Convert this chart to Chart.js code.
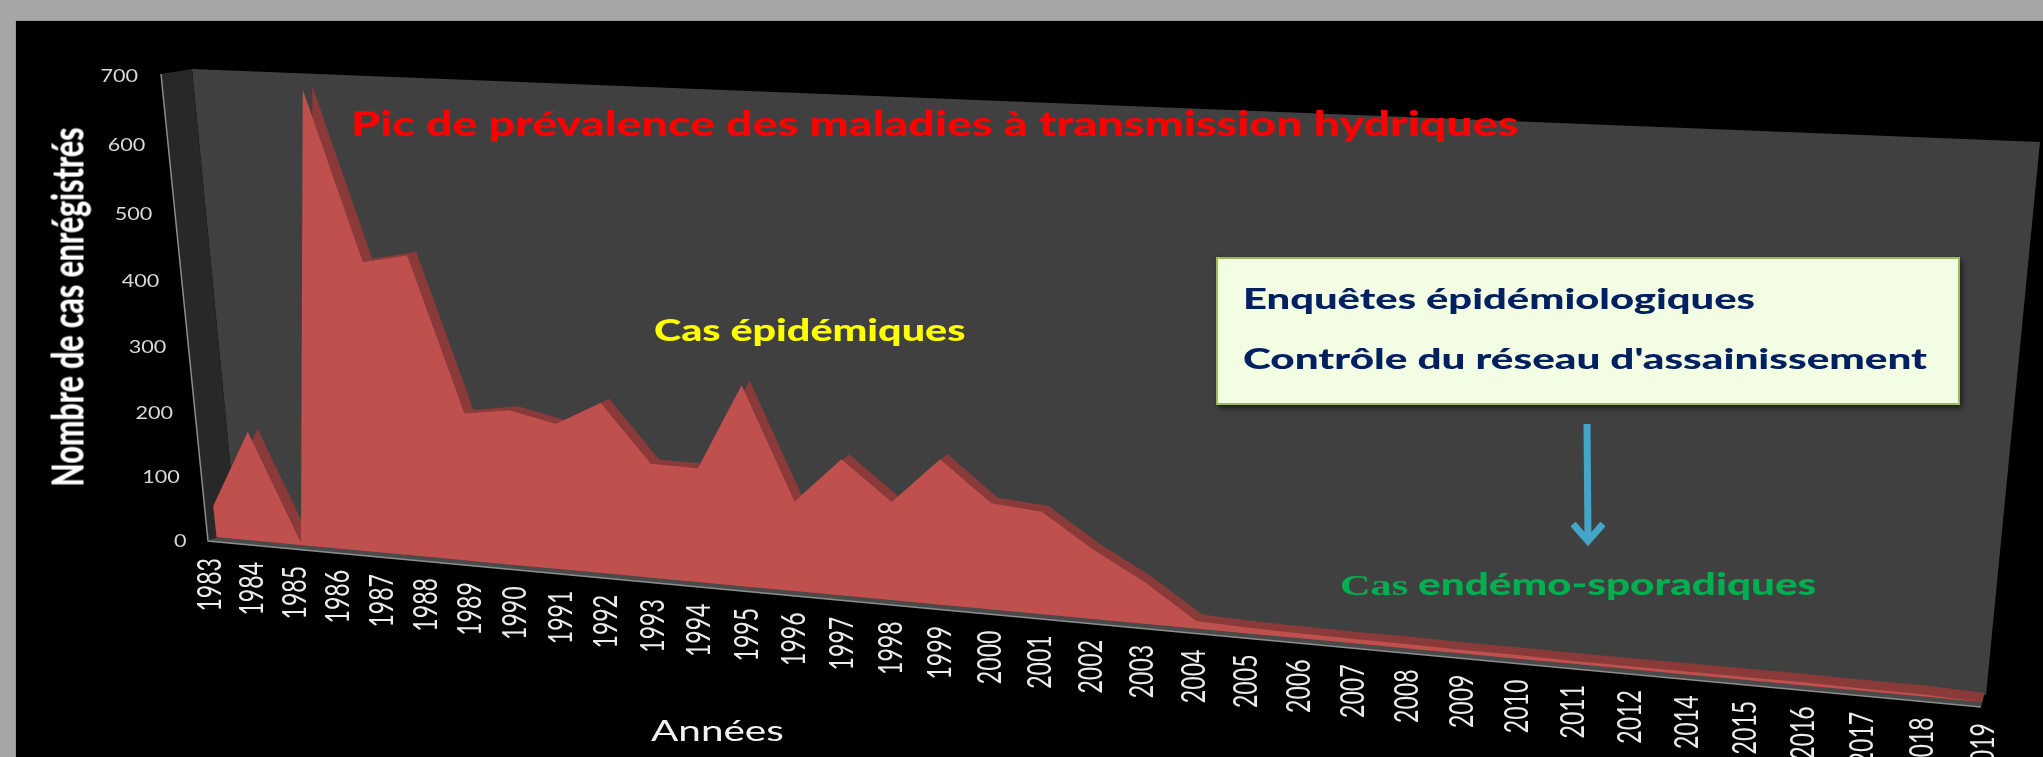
<!DOCTYPE html>
<html lang="fr">
<head>
<meta charset="utf-8">
<title>Nombre de cas enrégistrés</title>
<script src="https://cdn.jsdelivr.net/npm/chart.js@4/dist/chart.umd.min.js"></script>
<style>
    html, body { margin: 0; padding: 0; background: #a6a6a6; overflow: hidden; }
    #stage { position: relative; width: 2043px; height: 757px; overflow: hidden; }
    #slide { position: absolute; left: 16px; top: 21px; right: 0; bottom: 0; background: #000; box-shadow: 0 0 1px #555; }
    #chart { position: absolute; left: 0; top: 0; }
    .note { position: absolute; white-space: nowrap; line-height: 1; font-family: Lato, sans-serif; font-weight: 700; transform-origin: 0 50%; }
    .serif { font-family: "Liberation Serif", serif; }
    #box { position: absolute; left: 1216px; top: 257px; width: 740px; height: 144px; background: #f3fde3; border: 2px solid #9bbb59; box-shadow: 2px 3px 6px rgba(0,0,0,0.6); }
    #yTitle { position: absolute; left: 67px; top: 307px; white-space: nowrap; line-height: 1; font: 900 43px Lato, sans-serif; color: #fff; }
</style>
</head>
<body>
<div id="stage">
    <div id="slide"></div>
    <canvas id="chart" width="2043" height="757"></canvas>
    <div class="note" data-w="1168" style="left:351px;top:106px;font-size:34px;font-weight:900;color:#ff0000">Pic de prévalence des maladies à transmission hydriques</div>
    <div class="note" data-w="311" style="left:654px;top:314px;font-size:30px;font-weight:900;color:#ffff00">Cas épidémiques</div>
    <div id="box"></div>
    <div class="note" data-w="512" style="left:1243px;top:283px;font-size:29px;font-weight:900;color:#002060">Enquêtes épidémiologiques</div>
    <div class="note" data-w="684" style="left:1243px;top:343px;font-size:29px;font-weight:900;color:#002060">Contrôle du réseau d'assainissement</div>
    <div class="note" data-w="476" style="left:1340px;top:568px;font-size:30px;font-weight:900;color:#00b050"><span class="serif">Cas</span> endémo-sporadiques</div>
    <div class="note" data-w="133" style="left:651px;top:716px;font-size:28px;font-weight:400;color:#f2f2f2">Années</div>
    <div id="yTitle">Nombre de cas enrégistrés</div>
</div>
<script>
// Data (there is no 2013 on the original axis)
const years = ['1983', '1984', '1985', '1986', '1987', '1988', '1989', '1990', '1991', '1992',
    '1993', '1994', '1995', '1996', '1997', '1998', '1999', '2000', '2001', '2002', '2003',
    '2004', '2005', '2006', '2007', '2008', '2009', '2010', '2011', '2012', '2014', '2015',
    '2016', '2017', '2018', '2019'];
const cases = [49, 170, 3, 683, 438, 452, 224, 234, 219, 255,
    171, 170, 296, 133, 200, 144, 211, 154, 148, 100, 60,
    11, 8, 7, 6, 6, 5, 5, 4, 4, 4, 4,
    4, 3, 3, 0];
const yMax = 700;
const yStep = 100;

// Corners of the tilted plot: bottom left, bottom right, top right, top left
const frontPlane = [[216.5, 537], [1982, 702], [2036, 147], [168, 72]];
const backPlane = [[226.5, 534], [1984.5, 693], [2038.5, 138], [178, 69]];

// Four point perspective mapping from the unit square to a quad
function makeHomography(q) {
    const [[x0, y0], [x1, y1], [x2, y2], [x3, y3]] = q;
    const dx1 = x1 - x2, dx2 = x3 - x2, sx = x0 - x1 + x2 - x3;
    const dy1 = y1 - y2, dy2 = y3 - y2, sy = y0 - y1 + y2 - y3;
    const den = dx1 * dy2 - dx2 * dy1;
    const g = (sx * dy2 - dx2 * sy) / den;
    const h = (dx1 * sy - sx * dy1) / den;
    const a = x1 - x0 + g * x1, b = x3 - x0 + h * x3;
    const d = y1 - y0 + g * y1, e = y3 - y0 + h * y3;
    return function(u, v) {
        const w = g * u + h * v + 1;
        return { x: (a * u + b * v + x0) / w, y: (d * u + e * v + y0) / w };
    };
}
const projectFront = makeHomography(frontPlane);
const projectBack = makeHomography(backPlane);

// Scale pixels -> fractions of the plot area -> tilted position
function toPlane(chart, project, px, py) {
    const area = chart.chartArea;
    return project((px - area.left) / (area.right - area.left), (area.bottom - py) / (area.bottom - area.top));
}

function polygon(ctx, pts, color) {
    ctx.beginPath();
    pts.forEach((p, i) => i ? ctx.lineTo(p[0], p[1]) : ctx.moveTo(p[0], p[1]));
    ctx.closePath();
    ctx.fillStyle = color;
    ctx.fill();
}

function stretchedText(ctx, text, x, y, angle, scaleX) {
    ctx.save();
    ctx.translate(x, y);
    ctx.rotate(angle);
    ctx.scale(scaleX, 1);
    ctx.fillText(text, 0, 0);
    ctx.restore();
}

const perspectivePlugin = {
    id: 'perspective',
    // Move the points the library placed onto the tilted planes
    afterDatasetsUpdate(chart) {
        chart.data.datasets.forEach((ds, i) => {
            const project = ds.plane === 'back' ? projectBack : projectFront;
            chart.getDatasetMeta(i).data.forEach(pt => {
                const p = toPlane(chart, project, pt.x, pt.y);
                pt.x = p.x;
                pt.y = p.y;
            });
        });
    },
    // Walls and floor
    beforeDatasetsDraw(chart) {
        const ctx = chart.ctx;
        polygon(ctx, [[192, 69], [2040, 142], [1986, 695], [237, 534]], '#404040');
        polygon(ctx, [[161, 74], [192, 69], [237, 534], [208, 541]], '#282828');
        polygon(ctx, [[208, 541], [1981, 707], [1984.5, 693], [226.5, 534]], '#4a4a4a');
        ctx.strokeStyle = '#8c8c8c';
        ctx.lineWidth = 1.5;
        ctx.beginPath();
        ctx.moveTo(161, 74);
        ctx.lineTo(208, 541);
        ctx.lineTo(1981, 707);
        ctx.stroke();
    },
    // Close both areas down to the front zero line, so no gap shows between them
    beforeDatasetDraw(chart, args) {
        const ctx = chart.ctx;
        const meta = args.meta;
        const ds = chart.data.datasets[args.index];
        const xScale = chart.scales.x, yScale = chart.scales.y;
        ctx.beginPath();
        meta.dataset.path(ctx);
        for (let i = ds.data.length - 1; i >= 0; i--) {
            const p = toPlane(chart, projectFront, xScale.getPixelForValue(i), yScale.getPixelForValue(0));
            ctx.lineTo(p.x, p.y);
        }
        ctx.closePath();
        ctx.fillStyle = ds.backgroundColor;
        ctx.fill();
    },
    afterDraw(chart) {
        const ctx = chart.ctx;
        const xScale = chart.scales.x, yScale = chart.scales.y;
        ctx.save();

        // Value labels follow the left edge
        ctx.font = '18px Lato, sans-serif';
        ctx.fillStyle = '#d9d9d9';
        ctx.textAlign = 'right';
        ctx.textBaseline = 'middle';
        yScale.ticks.forEach(t => {
            const p = toPlane(chart, projectFront, xScale.left, yScale.getPixelForValue(t.value));
            stretchedText(ctx, t.label, p.x - 30, p.y + 4, 0, 1.2);
        });

        // Year labels follow the bottom edge
        ctx.font = '33px Lato, sans-serif';
        ctx.fillStyle = '#ececec';
        xScale.ticks.forEach((t, i) => {
            const p = toPlane(chart, projectFront, xScale.getPixelForValue(i), yScale.getPixelForValue(0));
            stretchedText(ctx, t.label, p.x - 6 + i * 0.2, p.y + 21, -Math.PI / 2, 0.7);
        });

        // Blue arrow
        ctx.strokeStyle = '#43a6c8';
        ctx.lineCap = 'butt';
        ctx.lineWidth = 7;
        ctx.beginPath();
        ctx.moveTo(1587, 424);
        ctx.lineTo(1588, 540);
        ctx.stroke();
        ctx.lineJoin = 'miter';
        ctx.beginPath();
        ctx.moveTo(1573, 524);
        ctx.lineTo(1588, 541);
        ctx.lineTo(1603, 524);
        ctx.stroke();
        ctx.restore();
    }
};

new Chart(document.getElementById('chart'), {
    type: 'line',
    data: {
        labels: years,
        datasets: [
            // First dataset is painted last, so the light face covers the dark relief
            { label: 'Nombre de cas', data: cases, plane: 'front', backgroundColor: '#c0504d', borderWidth: 0, pointRadius: 0, fill: false },
            { label: 'Relief', data: cases, plane: 'back', backgroundColor: '#8a3a38', borderWidth: 0, pointRadius: 0, fill: false }
        ]
    },
    options: {
        responsive: false,
        animation: false,
        events: [],
        clip: false,
        plugins: { legend: { display: false }, tooltip: { enabled: false } },
        scales: {
            x: { display: false, offset: false, ticks: { autoSkip: false } },
            y: { display: false, min: 0, max: yMax, ticks: { stepSize: yStep } }
        }
    },
    plugins: [perspectivePlugin]
});

// Squeeze or stretch the texts to the width they have in the original
document.querySelectorAll('.note').forEach(el => {
    el.style.transform = 'scaleX(' + (el.dataset.w / el.offsetWidth) + ')';
});
const yTitle = document.getElementById('yTitle');
yTitle.style.transform = 'translate(-50%, -50%) rotate(-90deg) scaleX(' + (359 / yTitle.offsetWidth) + ')';
</script>
</body>
</html>
